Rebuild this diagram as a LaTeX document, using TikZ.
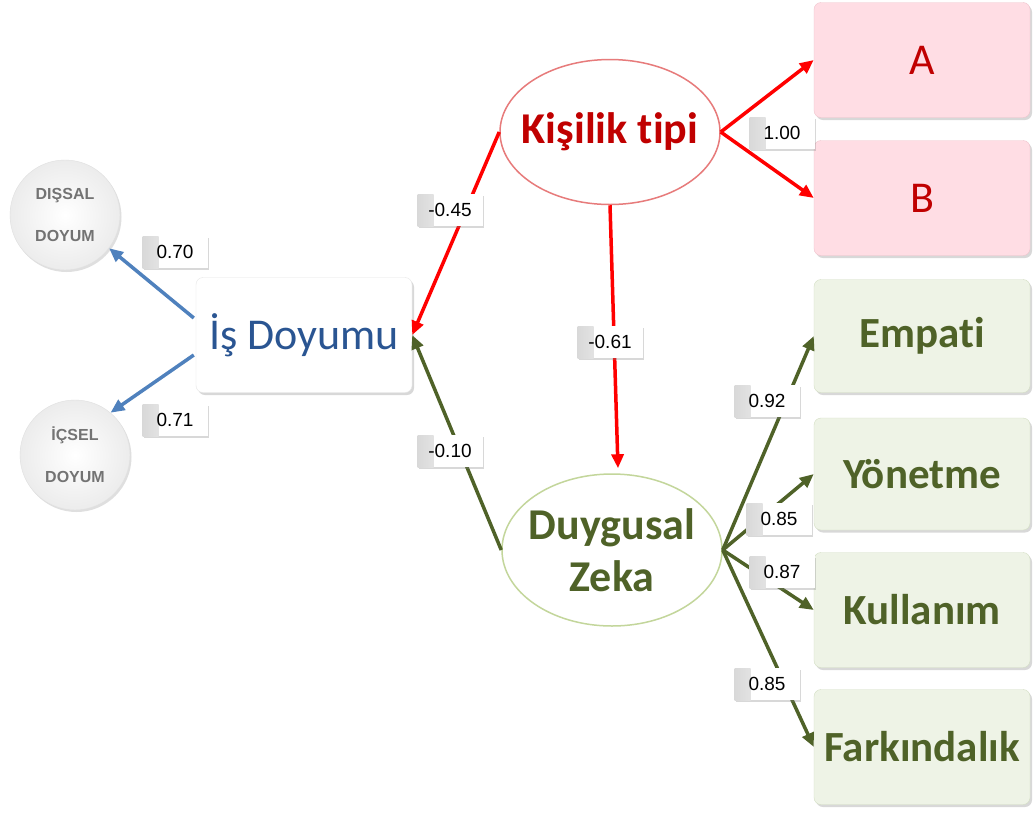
\documentclass[tikz,border=0pt]{standalone}
\usepackage{fontspec}
\setmainfont{Carlito}[Ligatures=NoCommon]
\newfontfamily\arialf{Liberation Sans}
\usetikzlibrary{arrows.meta,shadows,shapes.geometric,calc}
\definecolor{lineblue}{HTML}{4F81BD}
\definecolor{isblue}{HTML}{2A5592}
\definecolor{darkred}{HTML}{C00000}
\definecolor{lightred}{HTML}{E77B7B}
\definecolor{pinkfill}{HTML}{FFDDE4}
\definecolor{pinkdraw}{HTML}{EFC3CC}
\definecolor{olive}{HTML}{4F6228}
\definecolor{greenfill}{HTML}{EEF3E6}
\definecolor{greendraw}{HTML}{D3DEC3}
\definecolor{lightgreen}{HTML}{C3D69B}
\begin{document}
\begin{tikzpicture}[x=1pt,y=-1pt,
  circ/.style={circle,minimum size=110pt,inner sep=0pt,draw=gray!25,
    inner color=white,outer color=gray!15,
    drop shadow={opacity=0.25,shadow xshift=1.5pt,shadow yshift=-2pt},
    font=\arialf\bfseries\fontsize{16}{42}\selectfont,text=gray!90!black,align=center},
  bigbox/.style={rectangle,rounded corners=7pt,minimum width=216pt,inner sep=0pt,
    drop shadow={opacity=0.3,shadow xshift=2pt,shadow yshift=-2.5pt},
    font=\fontsize{44}{52}\selectfont},
  pinkbox/.style={bigbox,fill=pinkfill,draw=pinkdraw,text=darkred},
  greenbox/.style={bigbox,fill=greenfill,draw=greendraw,text=olive,font=\bfseries\fontsize{43}{52}\selectfont},
  latent/.style={ellipse,minimum width=220pt,inner sep=0pt,fill=white,line width=1.5pt},
  latenttext/.style={inner sep=0pt,font=\bfseries\fontsize{44}{52}\selectfont,align=center},
  lab/.style={rectangle,minimum width=65pt,minimum height=32pt,inner sep=0pt,fill=white,
    drop shadow={opacity=0.3,shadow xshift=1pt,shadow yshift=-1.5pt},
    path picture={\shade[left color=gray!30,right color=white]
      (path picture bounding box.south west) rectangle ([xshift=16pt]path picture bounding box.north west);},
    font=\arialf\fontsize{19}{22}\selectfont,text=black},
  arr/.style={line width=3.5pt,-{Triangle[length=14pt,width=12pt]}},
  bluearr/.style={arr,draw=lineblue,fill=lineblue},
  redarr/.style={arr,draw=red,fill=red},
  greenarr/.style={arr,draw=olive,fill=olive}
]
\useasboundingbox (0,0) rectangle (1036,812);
\fill[white] (0,0) rectangle (1036,812);

% observed variables of Is Doyumu
\node[circ] (dis) at (65,215) {DIŞSAL\\DOYUM};
\node[circ] (ics) at (75,455) {İÇSEL\\DOYUM};
\node[bigbox,fill=white,draw=gray!20,text=isblue,minimum height=115pt] (is) at (304,335) {İş Doyumu};

% latent variables
\node[latent,draw=lightred,minimum height=145pt] (kis) at (610,132) {};
\node[latenttext,text=darkred] (kistext) at (kis.center) {Kişilik tipi};
\node[latent,draw=lightgreen,minimum height=152pt] (dz) at (612,550) {};
\node[latenttext,text=olive] (dztext) at (dz.center) {Duygusal\\Zeka};

% right boxes
\node[pinkbox,minimum height=115pt] (a) at (922,60) {A};
\node[pinkbox,minimum height=115pt] (b) at (922,198) {B};
\node[greenbox,minimum height=113pt] (emp) at (922,336) {Empati};
\node[greenbox,minimum height=112pt] (yon) at (922,474) {Yönetme};
\node[greenbox,minimum height=115pt] (kul) at (922,610) {Kullanım};
\node[greenbox,minimum height=115pt] (far) at (922,747) {Farkındalık};

% connectors
\draw[bluearr] ($(is.west)+(-2,-17)$) -- (dis.-37);
\draw[bluearr] ($(is.west)+(-2,20)$) -- (ics.50);
\draw[redarr] (kis.west) -- (is.east);
\draw[redarr] (kis.south) -- ($(dz.north)+(6,-5)$);
\draw[redarr] (kis.east) -- (a.west);
\draw[redarr] (kis.east) -- (b.west);
\draw[greenarr] (dz.west) -- (is.east);
\draw[greenarr] (dz.east) -- (emp.west);
\draw[greenarr] (dz.east) -- (yon.west);
\draw[greenarr] (dz.east) -- (kul.west);
\draw[greenarr] (dz.east) -- (far.west);

% coefficient labels
\node[lab] (l1) at (175,252) {0.70};
\node[lab] (l2) at (175,420) {0.71};
\node[lab] (l3) at (450,210) {-0.45};
\node[lab] (l4) at (610,342) {-0.61};
\node[lab] (l5) at (782,133) {1.00};
\node[lab] (l6) at (450,451) {-0.10};
\node[lab] (l7) at (767,401) {0.92};
\node[lab] (l8) at (779,519) {0.85};
\node[lab] (l9) at (782,572) {0.87};
\node[lab] (l10) at (767,684) {0.85};
\end{tikzpicture}
\end{document}
